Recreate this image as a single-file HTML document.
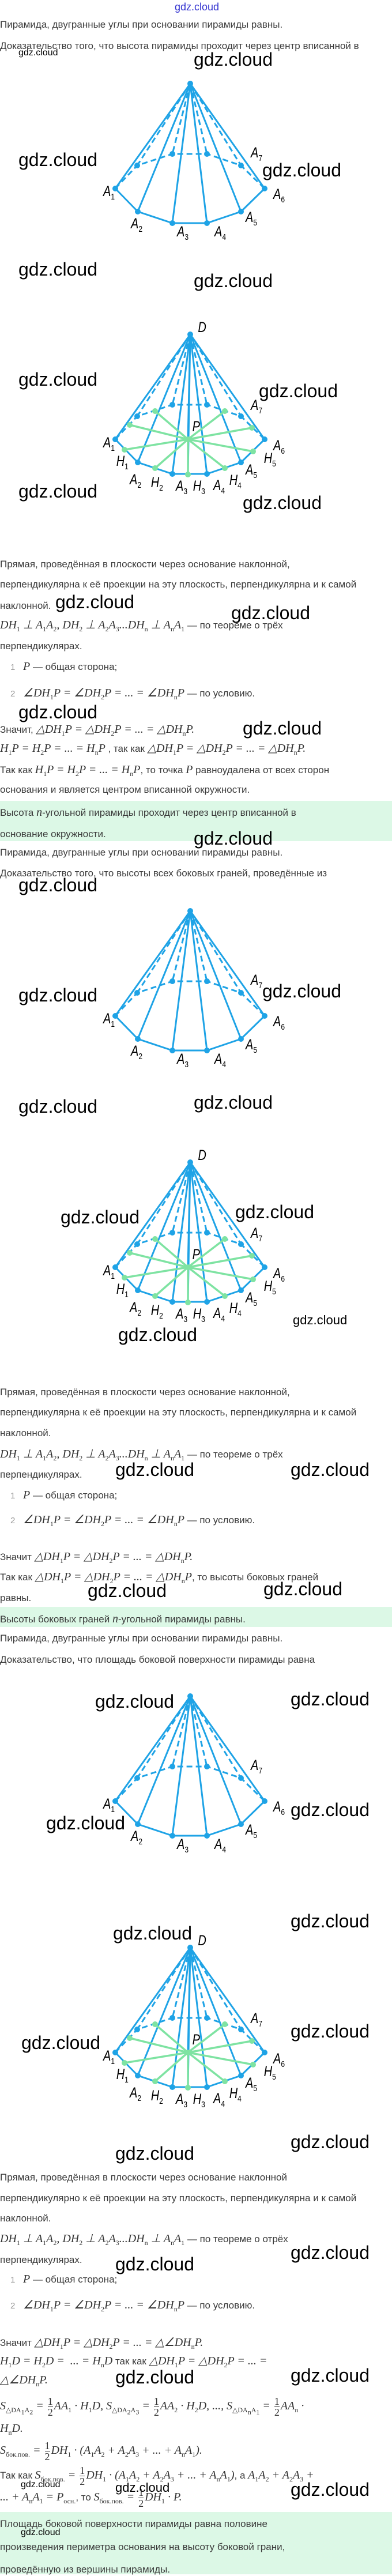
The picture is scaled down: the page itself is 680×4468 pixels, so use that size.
<!DOCTYPE html>
<html><head><meta charset="utf-8">
<style>
*{margin:0;padding:0;box-sizing:border-box}
body{width:680px;height:4465px;position:relative;background:#fff;overflow:hidden;font-family:"Liberation Sans",sans-serif;color:#3a3a3a}
.t{position:absolute;left:0;line-height:22px;font-size:17px;white-space:nowrap}
.m{font-family:"Liberation Serif",serif;font-style:italic;font-size:20px;color:#333}
.m sub,.m sup{font-size:12px;font-style:normal}
.n{font-family:"Liberation Serif",serif;font-size:20px;color:#333}
.num{display:inline-block;width:40px;padding-left:18px;color:#999;font-size:15px}
.g{position:absolute;background:#dcf8e6;left:0;width:680px}
.w{position:absolute;font-family:"Liberation Sans",sans-serif;font-size:32px;line-height:36px;color:#000;white-space:nowrap}
.ws{position:absolute;font-size:16px;line-height:18px;color:#000;white-space:nowrap}
.wm{position:absolute;font-size:22px;line-height:24px;color:#000;white-space:nowrap}
.pyr{position:absolute;left:330px;width:0;height:0}
.pyr svg{position:absolute;left:-150px;top:-10px}
.l{position:absolute;font-family:"Liberation Sans",sans-serif;font-style:italic;font-size:25px;line-height:26px;color:#000;transform:translate(-30%,-50%) scaleX(0.8);white-space:nowrap}
.l sub{font-size:15px;font-style:normal;vertical-align:-6px}
.fr{display:inline-block;vertical-align:middle;text-align:center;font-family:"Liberation Serif",serif;font-size:18px;line-height:18px;font-style:normal;margin:0 2px}
.fr span{display:block}
.fr span:first-child{border-bottom:1px solid #333}
</style></head><body>
<svg width="0" height="0" style="position:absolute">
<defs>
<g id="base" fill="none" stroke="#1ea3e6" stroke-width="3" stroke-linejoin="round">
<path d="M0 0L-130 182M0 0L-91 222M0 0L-31 242M0 0L29 242M0 0L88 222M0 0L129 182"/>
<path d="M-130 182L-91 222L-31 242L29 242L88 222L129 182"/>
<path stroke-dasharray="10 6" d="M0 0L-92 142M0 0L-31 122M0 0L29 122M0 0L88 142M-130 182L-92 142L-31 122L29 122L88 142L129 182"/>
<g fill="#1ea3e6" stroke="none">
<circle cx="0" cy="0" r="5"/><circle cx="-130" cy="182" r="5"/><circle cx="-91" cy="222" r="5"/><circle cx="-31" cy="242" r="5"/><circle cx="29" cy="242" r="5"/><circle cx="88" cy="222" r="5"/><circle cx="129" cy="182" r="5"/><circle cx="88" cy="142" r="5"/><circle cx="-92" cy="142" r="5"/><circle cx="-31" cy="122" r="5"/><circle cx="29" cy="122" r="5"/>
</g></g>
<g id="ext">
<use href="#base"/>
<path d="M0 0L-4 182M0 0L-4 243" stroke="#1ea3e6" stroke-width="3"/>
<g stroke="#7ee3a2" stroke-width="3.5">
<path d="M-4 182L-105 157M-4 182L-61 133M-4 182L60 133M-4 182L107 162M-4 182L-114 200M-4 182L-61 232M-4 182L-4 243M-4 182L60 232M-4 182L109 203"/>
</g>
<g fill="#7ee3a2">
<circle cx="-4" cy="182" r="5"/><circle cx="-105" cy="157" r="5"/><circle cx="-61" cy="133" r="5"/><circle cx="60" cy="133" r="5"/><circle cx="107" cy="162" r="5"/><circle cx="-114" cy="200" r="5"/><circle cx="-61" cy="232" r="5"/><circle cx="-4" cy="243" r="5"/><circle cx="60" cy="232" r="5"/><circle cx="109" cy="203" r="5"/>
</g></g>
</defs></svg>

<div style="position:absolute;left:303px;top:0;font-size:18px;line-height:24px;color:#3535d0">gdz.cloud</div>
<div class="t" style="top:32px">Пирамида, двугранные углы при основании пирамиды равны.</div>
<div class="t" style="top:69px">Доказательство того, что высота пирамиды проходит через центр вписанной в</div>
<div class="ws" style="left:32px;top:83px">gdz.cloud</div>

<!-- Pyramid 1 -->
<div class="pyr" style="top:145px"><svg width="300" height="270" viewBox="-150 -10 300 270"><use href="#base"/></svg>
<div class="l" style="left:-146px;top:192px">A<sub>1</sub></div><div class="l" style="left:-98px;top:248px">A<sub>2</sub></div><div class="l" style="left:-18px;top:262px">A<sub>3</sub></div><div class="l" style="left:47px;top:262px">A<sub>4</sub></div><div class="l" style="left:101px;top:237px">A<sub>5</sub></div><div class="l" style="left:149px;top:197px">A<sub>6</sub></div><div class="l" style="left:110px;top:125px">A<sub>7</sub></div>
</div>
<!-- Pyramid 2 -->
<div class="pyr" style="top:580px"><svg width="300" height="270" viewBox="-150 -10 300 270"><use href="#ext"/></svg>
<div class="l" style="left:17px;top:-12px">D</div><div class="l" style="left:7px;top:160px">P</div>
<div class="l" style="left:-146px;top:193px">A<sub>1</sub></div><div class="l" style="left:-123px;top:225px">H<sub>1</sub></div><div class="l" style="left:-100px;top:257px">A<sub>2</sub></div><div class="l" style="left:-63px;top:262px">H<sub>2</sub></div><div class="l" style="left:-20px;top:268px">A<sub>3</sub></div><div class="l" style="left:10px;top:268px">H<sub>3</sub></div><div class="l" style="left:45px;top:267px">A<sub>4</sub></div><div class="l" style="left:73px;top:258px">H<sub>4</sub></div><div class="l" style="left:101px;top:240px">A<sub>5</sub></div><div class="l" style="left:133px;top:220px">H<sub>5</sub></div><div class="l" style="left:149px;top:198px">A<sub>6</sub></div><div class="l" style="left:110px;top:128px">A<sub>7</sub></div>
</div>

<div class="t" style="top:968px">Прямая, проведённая в плоскости через основание наклонной,</div>
<div class="t" style="top:1003px">перпендикулярна к её проекции на эту плоскость, перпендикулярна и к самой</div>
<div class="t" style="top:1040px">наклонной.</div>
<div class="t" style="top:1073px"><span class="m">DH<sub>1</sub> <span class="n">⊥</span> A<sub>1</sub>A<sub>2</sub><span class="n">,</span> DH<sub>2</sub> <span class="n">⊥</span> A<sub>2</sub>A<sub>3</sub><span class="n">...</span>DH<sub>n</sub> <span class="n">⊥</span> A<sub>n</sub>A<sub>1</sub></span> — по теореме о трёх</div>
<div class="t" style="top:1110px">перпендикулярах.</div>
<div class="t" style="top:1145px"><span class="num">1</span><span class="m">P</span> — общая сторона;</div>
<div class="t" style="top:1191px"><span class="num">2</span><span class="m"><span class="n">∠</span>DH<sub>1</sub>P <span class="n">= ∠</span>DH<sub>2</sub>P <span class="n">= ... = ∠</span>DH<sub>n</sub>P</span> — по условию.</div>
<div class="t" style="top:1254px">Значит, <span class="m"><span class="n">△</span>DH<sub>1</sub>P <span class="n">= △</span>DH<sub>2</sub>P <span class="n">= ... = △</span>DH<sub>n</sub>P<span class="n">.</span></span></div>
<div class="t" style="top:1287px"><span class="m">H<sub>1</sub>P <span class="n">=</span> H<sub>2</sub>P <span class="n">= ... =</span> H<sub>n</sub>P</span> , так как <span class="m"><span class="n">△</span>DH<sub>1</sub>P <span class="n">= △</span>DH<sub>2</sub>P <span class="n">= ... = △</span>DH<sub>n</sub>P<span class="n">.</span></span></div>
<div class="t" style="top:1324px">Так как <span class="m">H<sub>1</sub>P <span class="n">=</span> H<sub>2</sub>P <span class="n">= ... =</span> H<sub>n</sub>P</span>, то точка <span class="m">P</span> равноудалена от всех сторон</div>
<div class="t" style="top:1359px">основания и является центром вписанной окружности.</div>
<div class="g" style="top:1389px;height:70px"></div>
<div class="t" style="top:1398px">Высота <span class="m">n</span>-угольной пирамиды проходит через центр вписанной в</div>
<div class="t" style="top:1436px">основание окружности.</div>
<div class="t" style="top:1468px">Пирамида, двугранные углы при основании пирамиды равны.</div>
<div class="t" style="top:1504px">Доказательство того, что высоты всех боковых граней, проведённые из</div>

<!-- Pyramid 3 -->
<div class="pyr" style="top:1580px"><svg width="300" height="270" viewBox="-150 -10 300 270"><use href="#base"/></svg>
<div class="l" style="left:-146px;top:192px">A<sub>1</sub></div><div class="l" style="left:-98px;top:248px">A<sub>2</sub></div><div class="l" style="left:-18px;top:262px">A<sub>3</sub></div><div class="l" style="left:47px;top:262px">A<sub>4</sub></div><div class="l" style="left:101px;top:237px">A<sub>5</sub></div><div class="l" style="left:149px;top:197px">A<sub>6</sub></div><div class="l" style="left:110px;top:125px">A<sub>7</sub></div>
</div>
<!-- Pyramid 4 -->
<div class="pyr" style="top:2016px"><svg width="300" height="270" viewBox="-150 -10 300 270"><use href="#ext"/></svg>
<div class="l" style="left:17px;top:-12px">D</div><div class="l" style="left:7px;top:160px">P</div>
<div class="l" style="left:-146px;top:193px">A<sub>1</sub></div><div class="l" style="left:-123px;top:225px">H<sub>1</sub></div><div class="l" style="left:-100px;top:257px">A<sub>2</sub></div><div class="l" style="left:-63px;top:262px">H<sub>2</sub></div><div class="l" style="left:-20px;top:268px">A<sub>3</sub></div><div class="l" style="left:10px;top:268px">H<sub>3</sub></div><div class="l" style="left:45px;top:267px">A<sub>4</sub></div><div class="l" style="left:73px;top:258px">H<sub>4</sub></div><div class="l" style="left:101px;top:240px">A<sub>5</sub></div><div class="l" style="left:133px;top:220px">H<sub>5</sub></div><div class="l" style="left:149px;top:198px">A<sub>6</sub></div><div class="l" style="left:110px;top:128px">A<sub>7</sub></div>
</div>

<div class="t" style="top:2404px">Прямая, проведённая в плоскости через основание наклонной,</div>
<div class="t" style="top:2439px">перпендикулярна к её проекции на эту плоскость, перпендикулярна и к самой</div>
<div class="t" style="top:2475px">наклонной.</div>
<div class="t" style="top:2511px"><span class="m">DH<sub>1</sub> <span class="n">⊥</span> A<sub>1</sub>A<sub>2</sub><span class="n">,</span> DH<sub>2</sub> <span class="n">⊥</span> A<sub>2</sub>A<sub>3</sub><span class="n">...</span>DH<sub>n</sub> <span class="n">⊥</span> A<sub>n</sub>A<sub>1</sub></span> — по теореме о трёх</div>
<div class="t" style="top:2547px">перпендикулярах.</div>
<div class="t" style="top:2582px"><span class="num">1</span><span class="m">P</span> — общая сторона;</div>
<div class="t" style="top:2625px"><span class="num">2</span><span class="m"><span class="n">∠</span>DH<sub>1</sub>P <span class="n">= ∠</span>DH<sub>2</sub>P <span class="n">= ... = ∠</span>DH<sub>n</sub>P</span> — по условию.</div>
<div class="t" style="top:2689px">Значит <span class="m"><span class="n">△</span>DH<sub>1</sub>P <span class="n">= △</span>DH<sub>2</sub>P <span class="n">= ... = △</span>DH<sub>n</sub>P<span class="n">.</span></span></div>
<div class="t" style="top:2724px">Так как <span class="m"><span class="n">△</span>DH<sub>1</sub>P <span class="n">= △</span>DH<sub>2</sub>P <span class="n">= ... = △</span>DH<sub>n</sub>P</span>, то высоты боковых граней</div>
<div class="t" style="top:2761px">равны.</div>
<div class="g" style="top:2787px;height:35px"></div>
<div class="t" style="top:2797px">Высоты боковых граней <span class="m">n</span>-угольной пирамиды равны.</div>
<div class="t" style="top:2831px">Пирамида, двугранные углы при основании пирамиды равны.</div>
<div class="t" style="top:2868px">Доказательство, что площадь боковой поверхности пирамиды равна</div>

<!-- Pyramid 5 -->
<div class="pyr" style="top:2942px"><svg width="300" height="270" viewBox="-150 -10 300 270"><use href="#base"/></svg>
<div class="l" style="left:-146px;top:192px">A<sub>1</sub></div><div class="l" style="left:-98px;top:248px">A<sub>2</sub></div><div class="l" style="left:-18px;top:262px">A<sub>3</sub></div><div class="l" style="left:47px;top:262px">A<sub>4</sub></div><div class="l" style="left:101px;top:237px">A<sub>5</sub></div><div class="l" style="left:149px;top:197px">A<sub>6</sub></div><div class="l" style="left:110px;top:125px">A<sub>7</sub></div>
</div>
<!-- Pyramid 6 -->
<div class="pyr" style="top:3378px"><svg width="300" height="270" viewBox="-150 -10 300 270"><use href="#ext"/></svg>
<div class="l" style="left:17px;top:-12px">D</div><div class="l" style="left:7px;top:160px">P</div>
<div class="l" style="left:-146px;top:193px">A<sub>1</sub></div><div class="l" style="left:-123px;top:225px">H<sub>1</sub></div><div class="l" style="left:-100px;top:257px">A<sub>2</sub></div><div class="l" style="left:-63px;top:262px">H<sub>2</sub></div><div class="l" style="left:-20px;top:268px">A<sub>3</sub></div><div class="l" style="left:10px;top:268px">H<sub>3</sub></div><div class="l" style="left:45px;top:267px">A<sub>4</sub></div><div class="l" style="left:73px;top:258px">H<sub>4</sub></div><div class="l" style="left:101px;top:240px">A<sub>5</sub></div><div class="l" style="left:133px;top:220px">H<sub>5</sub></div><div class="l" style="left:149px;top:198px">A<sub>6</sub></div><div class="l" style="left:110px;top:128px">A<sub>7</sub></div>
</div>

<div class="t" style="top:3766px">Прямая, проведённая в плоскости через основание наклонной</div>
<div class="t" style="top:3802px">перпендикулярно к её проекции на эту плоскость, перпендикулярна и к самой</div>
<div class="t" style="top:3837px">наклонной.</div>
<div class="t" style="top:3872px"><span class="m">DH<sub>1</sub> <span class="n">⊥</span> A<sub>1</sub>A<sub>2</sub><span class="n">,</span> DH<sub>2</sub> <span class="n">⊥</span> A<sub>2</sub>A<sub>3</sub><span class="n">...</span>DH<sub>n</sub> <span class="n">⊥</span> A<sub>n</sub>A<sub>1</sub></span> — по теореме о отрёх</div>
<div class="t" style="top:3909px">перпендикулярах.</div>
<div class="t" style="top:3942px"><span class="num">1</span><span class="m">P</span> — общая сторона;</div>
<div class="t" style="top:3987px"><span class="num">2</span><span class="m"><span class="n">∠</span>DH<sub>1</sub>P <span class="n">= ∠</span>DH<sub>2</sub>P <span class="n">= ... = ∠</span>DH<sub>n</sub>P</span> — по условию.</div>
<div class="t" style="top:4052px">Значит <span class="m"><span class="n">△</span>DH<sub>1</sub>P <span class="n">= △</span>DH<sub>2</sub>P <span class="n">= ... = △∠</span>DH<sub>n</sub>P<span class="n">.</span></span></div>
<div class="t" style="top:4084px"><span class="m">H<sub>1</sub>D <span class="n">=</span> H<sub>2</sub>D <span class="n">= &nbsp;... =</span> H<sub>n</sub>D</span> так как <span class="m"><span class="n">△</span>DH<sub>1</sub>P <span class="n">= △</span>DH<sub>2</sub>P <span class="n">= ... =</span></span></div>
<div class="t" style="top:4117px"><span class="m"><span class="n">△∠</span>DH<sub>n</sub>P<span class="n">.</span></span></div>
<div class="t" style="top:4153px;line-height:40px"><span class="m">S<sub>△DA<sub>1</sub>A<sub>2</sub></sub> <span class="n">=</span> <span class="fr"><span>1</span><span>2</span></span>AA<sub>1</sub> <span class="n">·</span> H<sub>1</sub>D<span class="n">,</span> S<sub>△DA<sub>2</sub>A<sub>3</sub></sub> <span class="n">=</span> <span class="fr"><span>1</span><span>2</span></span>AA<sub>2</sub> <span class="n">·</span> H<sub>2</sub>D<span class="n">, ...,</span> S<sub>△DA<sub>n</sub>A<sub>1</sub></sub> <span class="n">=</span> <span class="fr"><span>1</span><span>2</span></span>AA<sub>n</sub> <span class="n">·</span></span></div>
<div class="t" style="top:4201px"><span class="m">H<sub>n</sub>D<span class="n">.</span></span></div>
<div class="t" style="top:4230px;line-height:40px"><span class="m">S<sub>бок.пов.</sub> <span class="n">=</span> <span class="fr"><span>1</span><span>2</span></span>DH<sub>1</sub> <span class="n">· (</span>A<sub>1</sub>A<sub>2</sub> <span class="n">+</span> A<sub>2</sub>A<sub>3</sub> <span class="n">+ ... +</span> A<sub>n</sub>A<sub>1</sub><span class="n">).</span></span></div>
<div class="t" style="top:4273px;line-height:40px">Так как <span class="m">S<sub>бок.пов.</sub> <span class="n">=</span> <span class="fr"><span>1</span><span>2</span></span>DH<sub>1</sub> <span class="n">· (</span>A<sub>1</sub>A<sub>2</sub> <span class="n">+</span> A<sub>2</sub>A<sub>3</sub> <span class="n">+ ... +</span> A<sub>n</sub>A<sub>1</sub><span class="n">)</span></span>, а <span class="m">A<sub>1</sub>A<sub>2</sub> <span class="n">+</span> A<sub>2</sub>A<sub>3</sub> <span class="n">+</span></span></div>
<div class="t" style="top:4311px;line-height:40px"><span class="m"><span class="n">... +</span> A<sub>n</sub>A<sub>1</sub> <span class="n">=</span> P<sub>осн.</sub></span>, то <span class="m">S<sub>бок.пов.</sub> <span class="n">=</span> <span class="fr"><span>1</span><span>2</span></span>DH<sub>1</sub> <span class="n">·</span> P<span class="n">.</span></span></div>
<div class="g" style="top:4357px;height:108px"></div>
<div class="t" style="top:4367px">Площадь боковой поверхности пирамиды равна половине</div>
<div class="t" style="top:4407px">произведения периметра основания на высоту боковой грани,</div>
<div class="t" style="top:4446px">проведённую из вершины пирамиды.</div>

<!-- watermarks -->
<div class="w" style="left:336px;top:85px">gdz.cloud</div>
<div class="w" style="left:32px;top:259px">gdz.cloud</div>
<div class="w" style="left:455px;top:277px">gdz.cloud</div>
<div class="w" style="left:32px;top:449px">gdz.cloud</div>
<div class="w" style="left:336px;top:469px">gdz.cloud</div>
<div class="w" style="left:32px;top:640px">gdz.cloud</div>
<div class="w" style="left:449px;top:660px">gdz.cloud</div>
<div class="w" style="left:32px;top:834px">gdz.cloud</div>
<div class="w" style="left:421px;top:854px">gdz.cloud</div>
<div class="w" style="left:96px;top:1026px">gdz.cloud</div>
<div class="w" style="left:401px;top:1045px">gdz.cloud</div>
<div class="w" style="left:32px;top:1217px">gdz.cloud</div>
<div class="w" style="left:421px;top:1245px">gdz.cloud</div>
<div class="w" style="left:336px;top:1436px">gdz.cloud</div>
<div class="w" style="left:32px;top:1517px">gdz.cloud</div>
<div class="w" style="left:32px;top:1708px">gdz.cloud</div>
<div class="w" style="left:455px;top:1701px">gdz.cloud</div>
<div class="w" style="left:32px;top:1901px">gdz.cloud</div>
<div class="w" style="left:336px;top:1894px">gdz.cloud</div>
<div class="w" style="left:105px;top:2093px">gdz.cloud</div>
<div class="w" style="left:408px;top:2084px">gdz.cloud</div>
<div class="wm" style="left:508px;top:2278px">gdz.cloud</div>
<div class="w" style="left:205px;top:2297px">gdz.cloud</div>
<div class="w" style="left:200px;top:2531px">gdz.cloud</div>
<div class="w" style="left:504px;top:2531px">gdz.cloud</div>
<div class="w" style="left:152px;top:2741px">gdz.cloud</div>
<div class="w" style="left:457px;top:2738px">gdz.cloud</div>
<div class="w" style="left:165px;top:2933px">gdz.cloud</div>
<div class="w" style="left:504px;top:2929px">gdz.cloud</div>
<div class="w" style="left:80px;top:3144px">gdz.cloud</div>
<div class="w" style="left:504px;top:3121px">gdz.cloud</div>
<div class="w" style="left:504px;top:3314px">gdz.cloud</div>
<div class="w" style="left:196px;top:3335px">gdz.cloud</div>
<div class="w" style="left:37px;top:3525px">gdz.cloud</div>
<div class="w" style="left:504px;top:3505px">gdz.cloud</div>
<div class="w" style="left:504px;top:3697px">gdz.cloud</div>
<div class="w" style="left:200px;top:3717px">gdz.cloud</div>
<div class="w" style="left:504px;top:3889px">gdz.cloud</div>
<div class="w" style="left:200px;top:3909px">gdz.cloud</div>
<div class="w" style="left:200px;top:4105px">gdz.cloud</div>
<div class="w" style="left:504px;top:4102px">gdz.cloud</div>
<div class="w" style="left:504px;top:4300px">gdz.cloud</div>
<div class="wm" style="left:200px;top:4303px">gdz.cloud</div>
<div class="ws" style="left:36px;top:4301px">gdz.cloud</div>
<div class="ws" style="left:36px;top:4384px">gdz.cloud</div>
</body></html>
